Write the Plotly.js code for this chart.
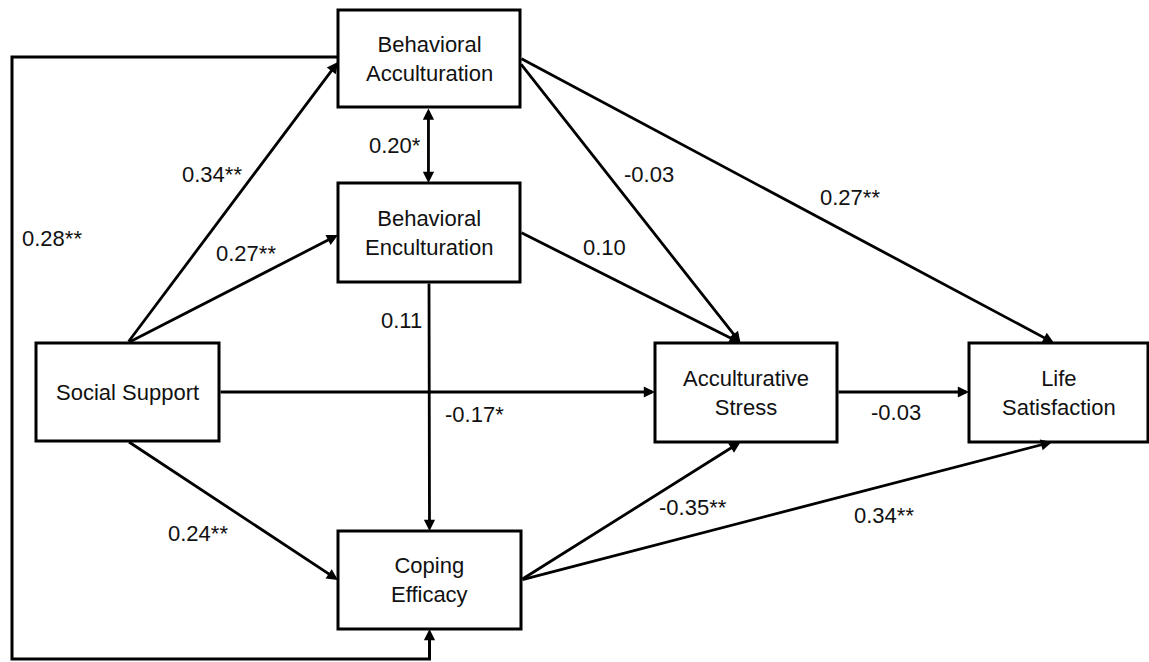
<!DOCTYPE html>
<html>
<head>
<meta charset="utf-8">
<script src="https://cdn.plot.ly/plotly-3.0.1.min.js"></script>
<style>html,body{margin:0;padding:0;background:#fff;}#chart{width:1149px;height:662px;}</style>
</head>
<body>
<div id="chart"></div>
<script>
// ---- data ----
const nodeKeys   = ['BA', 'BE', 'SS', 'CE', 'AS', 'LS'];
const nodeLabels = ['Behavioral<br>Acculturation', 'Behavioral<br>Enculturation', 'Social Support',
                    'Coping<br>Efficacy', 'Acculturative<br>Stress', 'Life<br>Satisfaction'];
const pathFrom   = ['SS', 'SS', 'BA', 'BA', 'BE', 'SS', 'SS', 'BE', 'BA', 'CE', 'CE', 'AS', 'BA'];
const pathTo     = ['BA', 'BE', 'BE', 'CE', 'CE', 'AS', 'CE', 'AS', 'AS', 'AS', 'LS', 'LS', 'LS'];
const coefficients = [0.34, 0.27, 0.20, 0.28, 0.11, -0.17, 0.24, 0.10, -0.03, -0.35, 0.34, -0.03, 0.27];
const significance = ['**', '**', '*', '**', '', '*', '**', '', '', '**', '**', '', '**'];

// ---- layout geometry (pixels of a 1149x662 canvas) ----
const boxGeom = {
  BA: [338, 520, 10, 107], BE: [338, 520, 183, 282], SS: [36, 219, 343, 441],
  CE: [338, 521, 531, 629], AS: [655, 837, 343, 442], LS: [969, 1148, 343, 442]
};
// side and fraction along side for tail and tip of each path
const pathAnchors = [
  [['top', 0.5], ['left', 0.536]],
  [['top', 0.5], ['left', 0.525]],
  [['bottom', 0.497], ['top', 0.497]],
  [['left', 0.485], ['bottom', 0.5]],
  [['bottom', 0.5], ['top', 0.5]],
  [['right', 0.5], ['left', 0.495]],
  [['bottom', 0.5], ['left', 0.5]],
  [['right', 0.495], ['top', 0.47]],
  [['right', 0.546], ['top', 0.47]],
  [['right', 0.5], ['bottom', 0.47]],
  [['right', 0.5], ['bottom', 0.464]],
  [['right', 0.495], ['left', 0.495]],
  [['right', 0.495], ['top', 0.475]]
];
const labelPos = [
  [212, 174], [246, 253], [395, 145], [52, 238], [401, 320], [474, 414], [198, 533],
  [604, 247], [649, 174], [693, 507], [884, 515], [896, 412], [850, 197]
];
const loopX = 12, loopBottom = 659;

function anchor(key, side, t) {
  const [x0, x1, y0, y1] = boxGeom[key];
  if (side === 'top') return [x0 + (x1 - x0) * t, y0];
  if (side === 'bottom') return [x0 + (x1 - x0) * t, y1];
  if (side === 'left') return [x0, y0 + (y1 - y0) * t];
  return [x1, y0 + (y1 - y0) * t];
}

const FONT = {family: 'Liberation Sans, Arial, sans-serif', size: 22, color: '#111'};
const LW = 3;
const shapes = [];
const annotations = [];

const arrowBase = {xref: 'x', yref: 'y', axref: 'x', ayref: 'y', text: '', showarrow: true,
  arrowhead: 2, arrowsize: 0.8, arrowwidth: 2.8, arrowcolor: '#000', standoff: 0, startstandoff: 0};

pathFrom.forEach((f, i) => {
  const t = pathTo[i];
  const [tailSpec, tipSpec] = pathAnchors[i];
  const tail = anchor(f, tailSpec[0], tailSpec[1]);
  const tip = anchor(t, tipSpec[0], tipSpec[1]);
  if (f === 'BA' && t === 'CE') {
    // routed loop around the left side
    shapes.push({type: 'path', xref: 'x', yref: 'y', layer: 'above',
      path: `M ${tail[0]} ${tail[1]} L ${loopX} ${tail[1]} L ${loopX} ${loopBottom} L ${tip[0]} ${loopBottom} L ${tip[0]} ${tip[1] + 10}`,
      line: {color: '#000', width: LW}});
    annotations.push(Object.assign({}, arrowBase, {x: tip[0], y: tip[1], ax: tip[0], ay: loopBottom}));
  } else if (f === 'BA' && t === 'BE') {
    annotations.push(Object.assign({}, arrowBase, {x: tip[0], y: tip[1], ax: tail[0], ay: tail[1], arrowside: 'end+start'}));
  } else {
    annotations.push(Object.assign({}, arrowBase, {x: tip[0], y: tip[1], ax: tail[0], ay: tail[1]}));
  }
  annotations.push({xref: 'x', yref: 'y', x: labelPos[i][0], y: labelPos[i][1], showarrow: false,
    text: coefficients[i].toFixed(2) + significance[i], font: FONT, xanchor: 'center', yanchor: 'middle'});
});

nodeKeys.forEach((k, i) => {
  const [x0, x1, y0, y1] = boxGeom[k];
  shapes.push({type: 'rect', xref: 'x', yref: 'y', x0, x1, y0, y1, layer: 'below',
    line: {color: '#000', width: LW}, fillcolor: '#fff'});
  annotations.push({xref: 'x', yref: 'y', x: (x0 + x1) / 2, y: (y0 + y1) / 2, showarrow: false,
    text: nodeLabels[i], font: FONT, xanchor: 'center', yanchor: 'middle', align: 'center'});
});

const layout = {
  width: 1149, height: 662, margin: {l: 0, r: 0, t: 0, b: 0},
  paper_bgcolor: '#fff', plot_bgcolor: '#fff', showlegend: false,
  xaxis: {range: [0, 1149], visible: false, fixedrange: true},
  yaxis: {range: [662, 0], visible: false, fixedrange: true},
  shapes, annotations
};
Plotly.newPlot('chart', [{x: [], y: [], type: 'scatter', mode: 'markers', hoverinfo: 'skip'}], layout,
  {displayModeBar: false, staticPlot: true});
</script>
</body>
</html>
